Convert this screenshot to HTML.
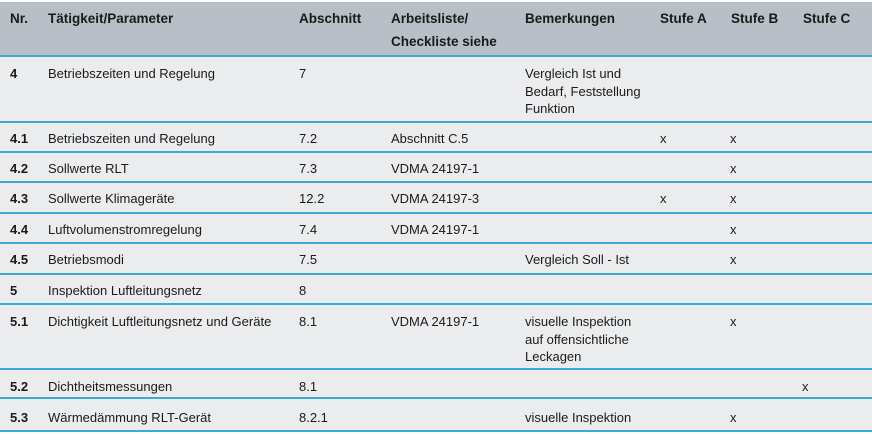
<!DOCTYPE html>
<html><head><meta charset="utf-8"><style>
body{margin:0;width:872px;height:441px;background:#fff;position:relative;overflow:hidden;font-family:"Liberation Sans",sans-serif;font-size:13px;color:#1a1a1a}
.hd{position:absolute;left:0;top:2px;width:872px;height:54px;background:#b8bfc6}
.bg{position:absolute;left:0;top:56px;width:872px;height:376px;background:#ebecee}
.ln{position:absolute;left:0;width:872px;height:2px;background:#3aa9dc}
.t{position:absolute;line-height:17.5px;white-space:nowrap;margin-top:2px}
.b{font-weight:bold}
.h{font-weight:bold;font-size:13.5px;line-height:23px;margin-top:0}
</style></head><body>
<div class="hd"></div><div class="bg"></div>
<div class="ln" style="top:55px"></div>
<div class="ln" style="top:121px"></div>
<div class="ln" style="top:151px"></div>
<div class="ln" style="top:181px"></div>
<div class="ln" style="top:212px"></div>
<div class="ln" style="top:242px"></div>
<div class="ln" style="top:273px"></div>
<div class="ln" style="top:303px"></div>
<div class="ln" style="top:368px"></div>
<div class="ln" style="top:397px"></div>
<div class="ln" style="top:430px"></div>

<div class="t h" style="left:10px;top:7px">Nr.</div>
<div class="t h" style="left:48px;top:7px">Tätigkeit/Parameter</div>
<div class="t h" style="left:299px;top:7px">Abschnitt</div>
<div class="t h" style="left:391px;top:7px">Arbeitsliste/<br>Checkliste siehe</div>
<div class="t h" style="left:525px;top:7px">Bemerkungen</div>
<div class="t h" style="left:660px;top:7px">Stufe A</div>
<div class="t h" style="left:731px;top:7px">Stufe B</div>
<div class="t h" style="left:803px;top:7px">Stufe C</div>

<div class="t b" style="left:10px;top:63px">4</div>
<div class="t" style="left:48px;top:63px">Betriebszeiten und Regelung</div>
<div class="t" style="left:299px;top:63px">7</div>
<div class="t" style="left:525px;top:63px">Vergleich Ist und<br>Bedarf, Feststellung<br>Funktion</div>

<div class="t b" style="left:10px;top:128px">4.1</div>
<div class="t" style="left:48px;top:128px">Betriebszeiten und Regelung</div>
<div class="t" style="left:299px;top:128px">7.2</div>
<div class="t" style="left:391px;top:128px">Abschnitt C.5</div>
<div class="t" style="left:660px;top:128px">x</div>
<div class="t" style="left:730px;top:128px">x</div>

<div class="t b" style="left:10px;top:158px">4.2</div>
<div class="t" style="left:48px;top:158px">Sollwerte RLT</div>
<div class="t" style="left:299px;top:158px">7.3</div>
<div class="t" style="left:391px;top:158px">VDMA 24197-1</div>
<div class="t" style="left:730px;top:158px">x</div>

<div class="t b" style="left:10px;top:188px">4.3</div>
<div class="t" style="left:48px;top:188px">Sollwerte Klimageräte</div>
<div class="t" style="left:299px;top:188px">12.2</div>
<div class="t" style="left:391px;top:188px">VDMA 24197-3</div>
<div class="t" style="left:660px;top:188px">x</div>
<div class="t" style="left:730px;top:188px">x</div>

<div class="t b" style="left:10px;top:219px">4.4</div>
<div class="t" style="left:48px;top:219px">Luftvolumenstromregelung</div>
<div class="t" style="left:299px;top:219px">7.4</div>
<div class="t" style="left:391px;top:219px">VDMA 24197-1</div>
<div class="t" style="left:730px;top:219px">x</div>

<div class="t b" style="left:10px;top:249px">4.5</div>
<div class="t" style="left:48px;top:249px">Betriebsmodi</div>
<div class="t" style="left:299px;top:249px">7.5</div>
<div class="t" style="left:525px;top:249px">Vergleich Soll - Ist</div>
<div class="t" style="left:730px;top:249px">x</div>

<div class="t b" style="left:10px;top:280px">5</div>
<div class="t" style="left:48px;top:280px">Inspektion Luftleitungsnetz</div>
<div class="t" style="left:299px;top:280px">8</div>

<div class="t b" style="left:10px;top:311px">5.1</div>
<div class="t" style="left:48px;top:311px">Dichtigkeit Luftleitungsnetz und Geräte</div>
<div class="t" style="left:299px;top:311px">8.1</div>
<div class="t" style="left:391px;top:311px">VDMA 24197-1</div>
<div class="t" style="left:525px;top:311px">visuelle Inspektion<br>auf offensichtliche<br>Leckagen</div>
<div class="t" style="left:730px;top:311px">x</div>

<div class="t b" style="left:10px;top:376px">5.2</div>
<div class="t" style="left:48px;top:376px">Dichtheitsmessungen</div>
<div class="t" style="left:299px;top:376px">8.1</div>
<div class="t" style="left:802px;top:376px">x</div>

<div class="t b" style="left:10px;top:407px">5.3</div>
<div class="t" style="left:48px;top:407px">Wärmedämmung RLT-Gerät</div>
<div class="t" style="left:299px;top:407px">8.2.1</div>
<div class="t" style="left:525px;top:407px">visuelle Inspektion</div>
<div class="t" style="left:730px;top:407px">x</div>
</body></html>
